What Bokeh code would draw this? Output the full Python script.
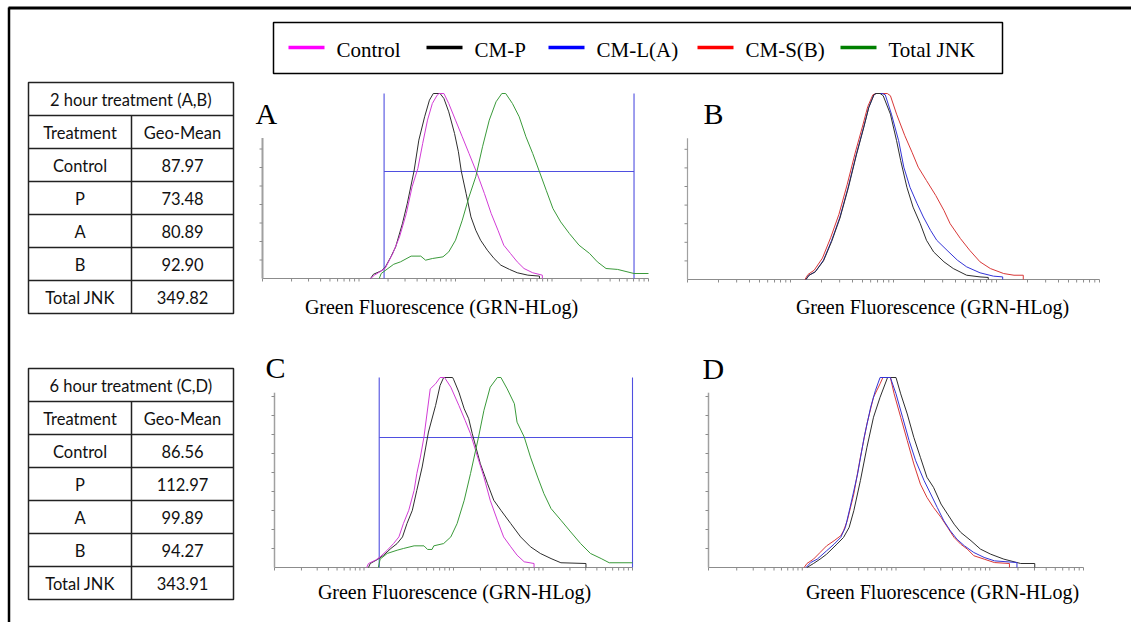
from bokeh.plotting import figure
from bokeh.models import Range1d
from bokeh.core.properties import value
from bokeh.embed import file_html
from bokeh.resources import INLINE
import math

# ---------------- data ----------------
legend_labels = ["Control", "CM-P", "CM-L(A)", "CM-S(B)", "Total JNK"]
legend_colors = ["#ff00ff", "#000000", "#0000ff", "#ff0000", "#008000"]

treatments = ["Control", "P", "A", "B", "Total JNK"]
geo_mean_2h = [87.97, 73.48, 80.89, 92.90, 349.82]
geo_mean_6h = [86.56, 112.97, 99.89, 94.27, 343.91]
table_titles = ["2 hour treatment (A,B)", "6 hour treatment (C,D)"]
table_headers = ["Treatment", "Geo-Mean"]

panel_letters = ["A", "B", "C", "D"]
x_label = "Green Fluorescence (GRN-HLog)"

# histograms: x = log10 of GRN-HLog channel (decades), y = % of modal count
a_control_x = [1.12, 1.16, 1.27, 1.35, 1.42, 1.49, 1.55, 1.61, 1.66, 1.71, 1.76, 1.81, 1.83, 1.88, 1.93,
               2.00, 2.07, 2.14, 2.23, 2.30, 2.37, 2.44, 2.50, 2.57, 2.64, 2.71, 2.80, 2.90, 2.90]
a_control_y = [0, 1.8, 5.4, 13.5, 22.5, 35.1, 49.5, 59.5, 73.0, 85.6, 94.6, 99.1, 100, 100, 94.6,
               85.6, 76.6, 67.6, 55.9, 45.9, 35.1, 26.1, 18.0, 13.5, 9.0, 5.4, 3.1, 1.8, 0]
a_cmp_x = [1.12, 1.15, 1.23, 1.27, 1.33, 1.38, 1.45, 1.50, 1.57, 1.62, 1.68, 1.73, 1.77, 1.84, 1.88, 1.93,
           1.99, 2.03, 2.06, 2.11, 2.16, 2.21, 2.26, 2.33, 2.40, 2.47, 2.56, 2.64, 2.75, 2.87, 2.87]
a_cmp_y = [0, 2.3, 4.1, 5.9, 11.7, 17.1, 29.7, 40.5, 58.0, 74.8, 87.4, 96.4, 100, 100, 97.3, 90.1,
           78.4, 68.5, 58.0, 45.9, 33.3, 26.1, 20.7, 15.3, 10.8, 7.2, 4.9, 3.1, 1.8, 1.3, 0]
a_jnk_x = [1.21, 1.23, 1.30, 1.36, 1.43, 1.54, 1.64, 1.69, 1.76, 1.87, 1.93, 2.00, 2.07, 2.14, 2.21, 2.28,
           2.35, 2.42, 2.48, 2.52, 2.59, 2.66, 2.73, 2.80, 2.87, 2.94, 3.01, 3.09, 3.18, 3.28, 3.39, 3.47,
           3.56, 3.68, 3.85, 4.00]
a_jnk_y = [0, 2.7, 5.4, 7.7, 9.0, 12.1, 12.1, 9.9, 10.8, 11.7, 14.4, 20.7, 31.5, 44.1, 55.0, 71.2,
           85.6, 95.5, 100, 100, 94.6, 87.4, 76.6, 67.6, 57.7, 47.7, 37.8, 30.6, 24.3, 18.0, 13.5, 9.0,
           5.4, 4.9, 2.7, 2.7]

b_cmp_x = [1.15, 1.18, 1.24, 1.32, 1.40, 1.48, 1.56, 1.64, 1.71, 1.76, 1.81, 1.83, 1.87, 1.90, 1.97,
           2.03, 2.07, 2.13, 2.19, 2.26, 2.32, 2.39, 2.49, 2.58, 2.71, 2.84, 2.92, 2.92]
b_cmp_y = [0, 2.3, 4.1, 10.0, 20.5, 33.0, 49.0, 67.0, 81.5, 92.5, 99.3, 100, 100, 98.8, 88.9,
           74.6, 63.9, 49.6, 38.9, 30.0, 21.1, 14.8, 9.5, 5.9, 2.3, 1.4, 1.1, 0]
b_cml_x = [1.15, 1.18, 1.24, 1.32, 1.40, 1.48, 1.56, 1.64, 1.71, 1.76, 1.81, 1.83, 1.89, 1.92, 1.98,
           2.05, 2.10, 2.16, 2.23, 2.29, 2.36, 2.42, 2.52, 2.62, 2.71, 2.84, 2.97, 3.06, 3.06]
b_cml_y = [0, 2.3, 4.1, 10.4, 21.1, 33.6, 49.6, 67.5, 81.8, 92.5, 99.3, 100, 100, 99.3, 88.9,
           74.6, 60.4, 49.6, 40.7, 33.6, 26.4, 21.1, 15.7, 10.4, 6.8, 3.6, 1.8, 1.4, 0]
b_cms_x = [1.14, 1.17, 1.23, 1.31, 1.39, 1.47, 1.55, 1.63, 1.70, 1.75, 1.80, 1.83, 1.94, 1.97, 2.03,
           2.11, 2.18, 2.24, 2.32, 2.41, 2.49, 2.55, 2.65, 2.74, 2.84, 2.94, 3.07, 3.17, 3.26, 3.26]
b_cms_y = [0, 2.7, 5.0, 11.5, 22.5, 35.0, 51.0, 68.5, 82.5, 93.0, 99.3, 100, 100, 98.8, 88.9,
           77.3, 68.4, 60.4, 53.2, 45.2, 37.1, 30.0, 22.0, 15.7, 9.5, 5.9, 3.2, 2.3, 2.3, 0]

c_control_x = [1.03, 1.05, 1.13, 1.18, 1.26, 1.33, 1.39, 1.44, 1.50, 1.56, 1.59, 1.63, 1.67, 1.74, 1.80,
               1.85, 1.90, 1.97, 2.06, 2.13, 2.19, 2.27, 2.34, 2.41, 2.49, 2.56, 2.64, 2.71, 2.79, 2.90, 2.90]
c_control_y = [0, 2.1, 3.9, 5.6, 9.1, 12.6, 16.1, 23.1, 30.1, 40.6, 49.4, 58.1, 68.7, 94.0, 96.7,
               100, 100, 94.9, 85.3, 77.4, 70.4, 58.1, 47.6, 35.4, 24.9, 16.1, 10.9, 6.5, 3.0, 2.1, 0]
c_cmp_x = [1.05, 1.07, 1.15, 1.22, 1.30, 1.37, 1.43, 1.48, 1.54, 1.59, 1.65, 1.69, 1.72, 1.80, 1.85,
           1.89, 1.99, 2.00, 2.06, 2.12, 2.17, 2.21, 2.30, 2.38, 2.45, 2.53, 2.64, 2.75, 2.86, 2.97,
           3.09, 3.20, 3.48, 3.48]
c_cmp_y = [0, 2.1, 4.2, 6.5, 10.0, 12.6, 16.1, 23.1, 30.1, 40.6, 52.9, 63.4, 71.3, 85.3, 95.8,
           100, 100, 99.1, 92.3, 83.5, 78.3, 70.4, 54.6, 44.1, 35.4, 30.1, 23.1, 16.1, 10.9, 7.4,
           4.7, 2.5, 2.1, 0]
c_jnk_x = [1.16, 1.18, 1.26, 1.37, 1.44, 1.56, 1.67, 1.71, 1.76, 1.78, 1.89, 1.97, 2.04, 2.12, 2.19,
           2.28, 2.34, 2.41, 2.49, 2.53, 2.60, 2.68, 2.71, 2.79, 2.86, 2.94, 3.01, 3.09, 3.20, 3.31,
           3.42, 3.53, 3.65, 3.74, 4.00]
c_jnk_y = [0, 4.4, 7.4, 9.1, 10.0, 11.4, 11.4, 9.5, 9.5, 11.4, 12.6, 16.1, 23.1, 35.4, 49.4,
           68.7, 82.7, 94.9, 100, 100, 94.0, 86.2, 76.5, 68.7, 58.1, 47.6, 38.9, 31.0, 24.9, 18.7,
           12.6, 7.4, 4.7, 2.5, 2.5]

d_cmp_x = [1.05, 1.12, 1.19, 1.26, 1.37, 1.44, 1.50, 1.55, 1.62, 1.69, 1.76, 1.83, 1.91, 2.00, 2.05,
           2.12, 2.19, 2.26, 2.33, 2.40, 2.48, 2.55, 2.62, 2.69, 2.80, 2.90, 3.01, 3.15, 3.33, 3.48, 3.48]
d_cmp_y = [0, 2.1, 4.4, 7.0, 12.3, 15.8, 21.1, 29.9, 45.7, 63.3, 79.1, 89.6, 100, 100, 91.4,
           80.8, 68.5, 58.0, 47.5, 42.2, 33.4, 28.1, 22.8, 18.5, 14.1, 9.7, 7.0, 4.4, 2.1, 2.1, 0]
d_cml_x = [1.04, 1.09, 1.16, 1.26, 1.34, 1.41, 1.46, 1.51, 1.59, 1.66, 1.73, 1.78, 1.83, 1.94, 2.00,
           2.07, 2.14, 2.21, 2.30, 2.37, 2.44, 2.51, 2.58, 2.65, 2.73, 2.83, 2.94, 3.05, 3.29, 3.29]
d_cml_y = [0, 2.6, 4.4, 8.8, 12.3, 15.8, 21.1, 31.6, 49.2, 68.5, 84.4, 93.1, 100, 100, 91.4,
           79.1, 66.8, 56.2, 45.7, 38.7, 31.6, 24.6, 19.3, 14.9, 11.4, 7.9, 5.3, 3.5, 2.6, 0]
d_cms_x = [1.02, 1.05, 1.12, 1.19, 1.26, 1.34, 1.41, 1.44, 1.48, 1.55, 1.62, 1.69, 1.76, 1.83, 1.86,
           1.94, 1.98, 2.05, 2.12, 2.19, 2.26, 2.33, 2.40, 2.48, 2.55, 2.62, 2.69, 2.76, 2.83, 2.94,
           3.05, 3.21, 3.21]
d_cms_y = [0, 2.1, 4.4, 7.9, 11.4, 14.1, 16.7, 19.3, 24.6, 38.7, 58.0, 75.6, 89.6, 96.7, 100,
           100, 91.4, 79.1, 66.8, 54.5, 43.9, 36.9, 31.6, 26.4, 21.1, 15.8, 12.3, 9.7, 6.2, 4.4,
           2.6, 2.1, 0]

# marker gate (decades low / high, % level) drawn on the A and C histograms
gate_lo = [1.26, 1.17]
gate_hi = [3.85, 4.00]
gate_level = [57.8, 68.4]

# ---------------- styling ----------------
TRACE = {"Control": "#d23cd6", "CM-P": "#2e2e2e", "CM-L(A)": "#3434d6",
         "CM-S(B)": "#d83838", "Total JNK": "#3a9a3a"}
GATE_COLOR = "#4f4fe0"
AXIS_COLOR = "#8c8c8c"
SERIF = value("Liberation Serif")
SANS = value("Lato")

W, H = 1131, 622
p = figure(width=W, height=H, x_range=Range1d(0, W), y_range=Range1d(H, 0),
           x_axis_type=None, y_axis_type=None, output_backend="svg",
           toolbar_location=None, min_border=0)
p.grid.visible = False
p.outline_line_color = None
p.background_fill_color = "white"
p.border_fill_color = "white"

# frame lines along the top and left edges
p.segment(x0=[8, 8.5], y0=[7.5, 7], x1=[W, 8.5], y1=[7.5, H], line_color="black", line_width=[3, 2.5])

# ---------------- legend ----------------
p.quad(left=273, right=1002, top=22, bottom=73, fill_color=None, line_color="black", line_width=1.5)
leg_line_x = [288, 426, 548, 697, 840]
p.segment(x0=leg_line_x, y0=[47] * 5, x1=[x + 36 for x in leg_line_x], y1=[47] * 5,
          line_color=legend_colors, line_width=3.5)
p.text(x=[x + 48 for x in leg_line_x], y=[49] * 5, text=legend_labels, text_font=SERIF,
       text_font_size="21px", text_align="left", text_baseline="middle", text_color="black")

# ---------------- tables ----------------
def draw_table(top, title, values):
    left, mid, right, rh = 28, 131, 233, 33
    bottom = top + 7 * rh
    p.quad(left=left, right=right, top=top, bottom=bottom, fill_color=None,
           line_color="#222222", line_width=1.5)
    ys = [top + k * rh for k in range(1, 7)]
    p.segment(x0=[left] * 6, y0=ys, x1=[right] * 6, y1=ys, line_color="#222222", line_width=1.5)
    p.segment(x0=[mid], y0=[top + rh], x1=[mid], y1=[bottom], line_color="#222222", line_width=1.5)
    cx1, cx2 = (left + mid) / 2, (mid + right) / 2
    xs = [(left + right) / 2, cx1, cx2]
    ys_t = [top + rh / 2, top + 1.5 * rh, top + 1.5 * rh]
    texts = [title] + table_headers
    for i, (name, v) in enumerate(zip(treatments, values)):
        yc = top + (2.5 + i) * rh
        xs += [cx1, cx2]
        ys_t += [yc, yc]
        texts += [name, f"{v:.2f}"]
    p.text(x=xs, y=[y + 0.5 for y in ys_t], text=texts, text_font=SANS, text_font_size="16.5px",
           text_align="center", text_baseline="middle", text_color="#111111")

draw_table(82, table_titles[0], geo_mean_2h)
draw_table(368, table_titles[1], geo_mean_6h)

# ---------------- histogram panels ----------------
panels = [
    dict(x0=262, x1=648, yb=278, yt=93, axis_top=76, nt=7, letter=(255, 113), label=(441, 306),
         curves=[("CM-P", a_cmp_x, a_cmp_y), ("Control", a_control_x, a_control_y),
                 ("Total JNK", a_jnk_x, a_jnk_y)], gate=0, yw=2),
    dict(x0=687, x1=1099, yb=279, yt=93, axis_top=76, nt=7, letter=(703, 113), label=(932, 306),
         curves=[("CM-S(B)", b_cms_x, b_cms_y), ("CM-L(A)", b_cml_x, b_cml_y),
                 ("CM-P", b_cmp_x, b_cmp_y)], gate=None, yw=1.2),
    dict(x0=274, x1=632, yb=567, yt=377, axis_top=92, nt=9, letter=(265, 367), label=(454, 591),
         curves=[("CM-P", c_cmp_x, c_cmp_y), ("Control", c_control_x, c_control_y),
                 ("Total JNK", c_jnk_x, c_jnk_y)], gate=1, yw=1.5),
    dict(x0=708, x1=1083, yb=567, yt=377, axis_top=92, nt=9, letter=(702, 368), label=(942, 591),
         curves=[("CM-P", d_cmp_x, d_cmp_y), ("CM-S(B)", d_cms_x, d_cms_y),
                 ("CM-L(A)", d_cml_x, d_cml_y)], gate=None, yw=1.5),
]

# log minor ticks over four decades
x_ticks = [n + math.log10(k) for n in range(4) for k in range(1, 10)] + [4.0]

for letter, pn in zip(panel_letters, panels):
    sub = p.subplot(x_source=Range1d(0, 4), y_source=Range1d(0, 100),
                    x_target=Range1d(pn["x0"], pn["x1"]), y_target=Range1d(pn["yb"], pn["yt"]))
    px_x = (pn["x1"] - pn["x0"]) / 4.0       # pixels per decade
    px_y = (pn["yb"] - pn["yt"]) / 100.0     # pixels per percent

    # axes
    sub.segment(x0=[0], y0=[0], x1=[4], y1=[0], line_color=AXIS_COLOR, line_width=1.2)
    sub.segment(x0=[0], y0=[0], x1=[0], y1=[pn["axis_top"]], line_color="#a0a0a0", line_width=pn["yw"])
    sub.segment(x0=x_ticks, y0=[0] * len(x_ticks), x1=x_ticks, y1=[-3 / px_y] * len(x_ticks),
                line_color=AXIS_COLOR, line_width=1)
    yt = [10 * (k + 1) for k in range(pn["nt"])]
    sub.segment(x0=[-3 / px_x] * len(yt), y0=yt, x1=[0] * len(yt), y1=yt,
                line_color=AXIS_COLOR, line_width=1)

    # gate marker
    g = pn["gate"]
    if g is not None:
        sub.segment(x0=[gate_lo[g], gate_hi[g], gate_lo[g]], y0=[0, 0, gate_level[g]],
                    x1=[gate_lo[g], gate_hi[g], gate_hi[g]], y1=[100, 100, gate_level[g]],
                    line_color=GATE_COLOR, line_width=1.1)

    for name, xs, ys in pn["curves"]:
        sub.line(xs, ys, line_color=TRACE[name], line_width=1)

    p.text(x=[pn["letter"][0]], y=[pn["letter"][1]], text=[letter], text_font=SERIF,
           text_font_size="30px", text_align="left", text_baseline="middle", text_color="black")
    p.text(x=[pn["label"][0]], y=[pn["label"][1]], text=[x_label], text_font=SERIF,
           text_font_size="20px", text_align="center", text_baseline="middle", text_color="black")

open("out.html", "w").write(file_html(p, INLINE))
